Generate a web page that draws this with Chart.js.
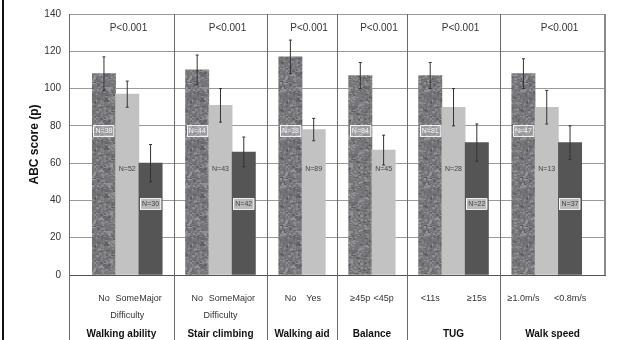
<!DOCTYPE html>
<html>
<head>
<meta charset="utf-8">
<script src="https://cdn.jsdelivr.net/npm/chart.js@4/dist/chart.umd.min.js"></script>
<style>
  html, body { margin: 0; padding: 0; background: #fff; }
  #wrap { width: 629px; height: 340px; }
</style>
</head>
<body>
<div id="wrap"><canvas id="abcChart" width="629" height="340"></canvas></div>
<script>
// groups and their levels
const groupNames = ['Walking ability', 'Stair climbing', 'Walking aid', 'Balance', 'TUG', 'Walk speed'];
const levelLabels = [
    ['No', ['Some', 'Difficulty'], 'Major'],
    ['No', ['Some', 'Difficulty'], 'Major'],
    ['No', 'Yes'],
    ['≥45p', '<45p'],
    ['<11s', '', '≥15s'],
    ['≥1.0m/s', '', '<0.8m/s']
];
const meanScores = [[108, 97, 60], [110, 91, 66], [117, 78], [107, 67], [107, 90, 71], [108, 90, 71]];
const sdScores = [[9, 7, 10], [8, 9, 8], [9, 6], [7, 8], [7, 10, 10], [8, 9, 9]];
const groupN = [[38, 52, 30], [44, 43, 42], [38, 89], [84, 45], [81, 28, 22], [47, 13, 37]];
const pValues = ['P<0.001', 'P<0.001', 'P<0.001', 'P<0.001', 'P<0.001', 'P<0.001'];
const yMin = 0, yMax = 140, yStep = 20;

const FONT = "'Liberation Sans', Arial, sans-serif";

// mottled grey texture for the first bar of every group
function makeTexture() {
    const c = document.createElement('canvas');
    c.width = 48; c.height = 48;
    const g = c.getContext('2d');
    g.fillStyle = '#767676';
    g.fillRect(0, 0, 48, 48);
    let seed = 987;
    const rnd = () => { seed = (seed * 1103515245 + 12345) & 0x7fffffff; return seed / 0x7fffffff; };
    for (let i = 0; i < 650; i++) {
        const v = Math.floor(88 + rnd() * 70);
        g.fillStyle = `rgba(${v},${v},${v + 6},0.8)`;
        g.fillRect(Math.floor(rnd() * 48), Math.floor(rnd() * 48), 2 + Math.floor(rnd() * 2), 1 + Math.floor(rnd() * 2));
    }
    return g.createPattern(c, 'repeat');
}
const barFills = [makeTexture(), '#c2c2c2', '#555555'];

// one slot per bar, an empty slot between groups and at both ends
const slotLabels = [''];
const slotValues = [null];
const slotSd = [null];
const slotN = [null];
const slotKind = [-1];
const gapSlots = [];
groupNames.forEach((name, gi) => {
    if (gi > 0) {
        gapSlots.push(slotLabels.length);
        slotLabels.push(''); slotValues.push(null); slotSd.push(null); slotN.push(null); slotKind.push(-1);
    }
    levelLabels[gi].forEach((lab, li) => {
        slotLabels.push(lab);
        slotValues.push(meanScores[gi][li]);
        slotSd.push(sdScores[gi][li]);
        slotN.push(groupN[gi][li]);
        slotKind.push(li);
    });
});
slotLabels.push(''); slotValues.push(null); slotSd.push(null); slotN.push(null); slotKind.push(-1);

const nLabelLevel = [77, 57, 38];

const panelPlugin = {
    id: 'panelPlugin',
    beforeDraw(chart) {
        const ctx = chart.ctx;
        ctx.save();
        ctx.fillStyle = '#fff';
        ctx.fillRect(0, 0, chart.width, chart.height);
        ctx.fillStyle = '#111';
        ctx.fillRect(2, 0, 2, chart.height);
        ctx.restore();
    },
    afterDatasetsDraw(chart) {
        const ctx = chart.ctx;
        const y = chart.scales.y;
        const bars = chart.getDatasetMeta(0).data;
        ctx.save();
        bars.forEach((bar, i) => {
            if (slotValues[i] == null) return;
            const top = y.getPixelForValue(slotValues[i] + slotSd[i]);
            const bot = y.getPixelForValue(slotValues[i] - slotSd[i]);
            ctx.strokeStyle = '#333';
            ctx.lineWidth = 1;
            ctx.beginPath();
            ctx.moveTo(bar.x, top); ctx.lineTo(bar.x, bot);
            ctx.moveTo(bar.x - 1.5, top); ctx.lineTo(bar.x + 1.5, top);
            ctx.moveTo(bar.x - 1.5, bot); ctx.lineTo(bar.x + 1.5, bot);
            ctx.stroke();

            // N label boxes
            const kind = slotKind[i];
            const ly = Math.round(y.getPixelForValue(nLabelLevel[kind]));
            const w = bar.width - 2;
            const bx = Math.round(bar.x - w / 2);
            if (kind !== 1) {
                ctx.fillStyle = kind === 0 ? 'rgba(255,255,255,0.3)' : 'rgba(255,255,255,0.6)';
                ctx.fillRect(bx, ly - 5, w, 10);
                ctx.strokeStyle = 'rgba(255,255,255,0.9)';
                ctx.strokeRect(bx + 0.5, ly - 5.5, w - 1, 11);
            }
            ctx.fillStyle = kind === 0 ? '#f4f4f4' : '#444';
            ctx.font = `7px ${FONT}`;
            ctx.textAlign = 'center';
            ctx.textBaseline = 'middle';
            ctx.fillText('N=' + slotN[i], bar.x, ly);
        });
        ctx.restore();
    },
    afterDraw(chart) {
        const ctx = chart.ctx;
        const x = chart.scales.x;
        const area = chart.chartArea;
        ctx.save();
        ctx.strokeStyle = '#6a6a6a';
        ctx.lineWidth = 1;
        ctx.beginPath();
        const edges = [area.left];
        gapSlots.forEach(s => edges.push(x.getPixelForValue(s)));
        edges.forEach(px => {
            const p = Math.round(px) + 0.5;
            ctx.moveTo(p, area.top); ctx.lineTo(p, chart.height);
        });
        ctx.stroke();
        edges.push(area.right);
        // right frame edge
        ctx.strokeStyle = '#8a8a8a';
        ctx.lineWidth = 2;
        ctx.beginPath();
        ctx.moveTo(area.right, area.top); ctx.lineTo(area.right, area.bottom);
        ctx.stroke();

        ctx.textAlign = 'center';
        ctx.textBaseline = 'middle';
        groupNames.forEach((name, gi) => {
            const mid = (edges[gi] + edges[gi + 1]) / 2;
            ctx.font = `10px ${FONT}`;
            ctx.fillStyle = '#333';
            ctx.fillText(pValues[gi], mid + 7, area.top + 14);
            ctx.font = `bold 10px ${FONT}`;
            ctx.fillStyle = '#111';
            ctx.fillText(name, mid, 334);
        });
        ctx.restore();
    }
};

new Chart(document.getElementById('abcChart'), {
    type: 'bar',
    data: {
        labels: slotLabels,
        datasets: [{
            data: slotValues,
            backgroundColor: slotKind.map(k => k < 0 ? 'rgba(0,0,0,0)' : barFills[k]),
            borderWidth: 0,
            barPercentage: 1,
            categoryPercentage: 1
        }]
    },
    options: {
        responsive: false,
        animation: false,
        layout: { padding: { top: 13, right: 24, left: 27, bottom: 0 } },
        plugins: { legend: { display: false }, tooltip: { enabled: false } },
        scales: {
            x: {
                grid: { display: false },
                border: { display: true, color: '#555', width: 1 },
                ticks: {
                    autoSkip: false,
                    maxRotation: 0,
                    padding: 7,
                    color: '#333',
                    font: { family: FONT, size: 9, lineHeight: 1.9 }
                },
                afterFit(scale) { scale.height = 65; }
            },
            y: {
                min: yMin,
                max: yMax,
                ticks: {
                    stepSize: yStep,
                    padding: 8,
                    color: '#333',
                    font: { family: FONT, size: 10 }
                },
                grid: { color: '#9a9a9a', lineWidth: 1, drawTicks: false },
                border: { display: true, color: '#6a6a6a' },
                title: {
                    display: true,
                    text: 'ABC score (p)',
                    color: '#111',
                    font: { family: FONT, size: 12, weight: 'bold' },
                    padding: 0
                },
                afterFit(scale) { scale.width = 42; }
            }
        }
    },
    plugins: [panelPlugin]
});
</script>
</body>
</html>
